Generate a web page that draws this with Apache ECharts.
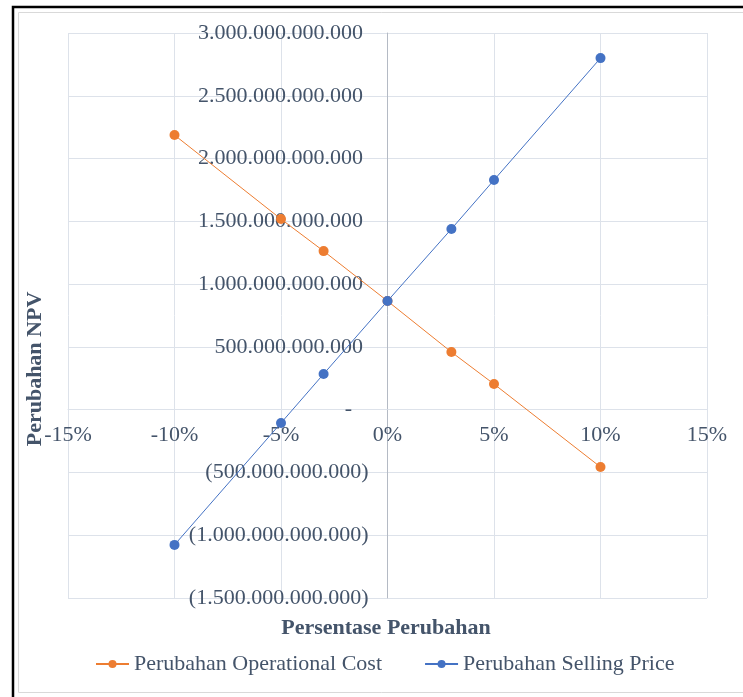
<!DOCTYPE html>
<html>
<head>
<meta charset="utf-8">
<script src="https://cdn.jsdelivr.net/npm/echarts@6/dist/echarts.min.js"></script>
<style>
  html, body { margin: 0; padding: 0; background: #fff; }
  #chart { width: 743px; height: 697px; }
</style>
</head>
<body>
<div id="chart"></div>
<script>
var change = [-10, -5, -3, 0, 3, 5, 10],
    opCost = [2187, 1518, 1263, 865, 459, 204, -457],
    sellPrice = [-1077, -106, 284, 865, 1439, 1829, 2800]

var seriesNames = ['Perubahan Operational Cost', 'Perubahan Selling Price']
var textColor = '#44546a'
var gridColor = '#dde2ea'
var font = '"Liberation Serif", "Times New Roman", serif'

// values in the arrays are in billions (miliar)
var pairs = function (ys) {
    return change.map(function (x, i) { return [x, ys[i] * 1e9]; });
};

var fmtNum = function (v) {
    if (v === 0) return '-   ';
    var s = Math.round(Math.abs(v)).toString().replace(/\B(?=(\d{3})+(?!\d))/g, '.');
    return v < 0 ? '(' + s + ')' : s + ' ';
};

// plot box, axes cross at x = 0 and y = 0
var gl = 68, gr = 36, gt = 33, gb = 99;
var pw = 743 - gl - gr, ph = 697 - gt - gb;
var xMin = -15, xMax = 15, yMin = -1.5e12, yMax = 3e12;
var yOff = -pw * (0 - xMin) / (xMax - xMin);
var xOff = -ph * (0 - yMin) / (yMax - yMin);

var chart = echarts.init(document.getElementById('chart'));
chart.setOption({
    animation: false,
    textStyle: { fontFamily: font },
    grid: { left: gl, right: gr, top: gt, bottom: gb, containLabel: false, outerBoundsMode: 'none' },
    legend: {
        data: seriesNames,
        top: 653,
        left: 95,
        padding: 0,
        itemWidth: 33,
        itemHeight: 10,
        itemGap: 42,
        textStyle: { fontFamily: font, fontSize: 22, color: textColor }
    },
    xAxis: {
        type: 'value',
        min: xMin, max: xMax, interval: 5,
        offset: xOff,
        axisLine: { onZero: false, lineStyle: { color: gridColor, width: 1 } },
        axisTick: { show: false },
        splitLine: { show: true, lineStyle: { color: gridColor } },
        axisLabel: {
            margin: 15,
            fontFamily: font, fontSize: 22, color: textColor,
            formatter: function (v) { return v + '%'; }
        }
    },
    yAxis: {
        type: 'value',
        min: yMin, max: yMax, interval: 0.5e12,
        offset: yOff,
        axisLine: { show: true, onZero: false, lineStyle: { color: '#b4bac4', width: 1 } },
        axisTick: { show: false },
        splitLine: { show: true, lineStyle: { color: gridColor } },
        axisLabel: {
            margin: 19,
            fontFamily: font, fontSize: 22, color: textColor,
            formatter: fmtNum
        }
    },
    graphic: [
        { type: 'rect', shape: { x: 13, y: 7, width: 740, height: 700 }, style: { fill: null, stroke: '#000', lineWidth: 2.5 }, silent: true },
        { type: 'rect', shape: { x: 18.5, y: 12.5, width: 740, height: 680 }, style: { fill: null, stroke: '#d9d9d9', lineWidth: 1 }, silent: true },
        {
            type: 'text', x: 35, y: 369, rotation: Math.PI / 2,
            style: { text: 'Perubahan NPV', font: 'bold 22px ' + font, fill: textColor, align: 'center', verticalAlign: 'middle' }
        },
        {
            type: 'text', x: 386, y: 628,
            style: { text: 'Persentase Perubahan', font: 'bold 22px ' + font, fill: textColor, align: 'center', verticalAlign: 'middle' }
        }
    ],
    series: [
        {
            name: seriesNames[0], type: 'line', data: pairs(opCost),
            symbol: 'circle', symbolSize: 10,
            itemStyle: { color: '#ed7d31' },
            lineStyle: { color: '#ed7d31', width: 1 }
        },
        {
            name: seriesNames[1], type: 'line', data: pairs(sellPrice),
            symbol: 'circle', symbolSize: 10,
            itemStyle: { color: '#4472c4' },
            lineStyle: { color: '#4472c4', width: 1 }
        }
    ]
});
</script>
</body>
</html>
